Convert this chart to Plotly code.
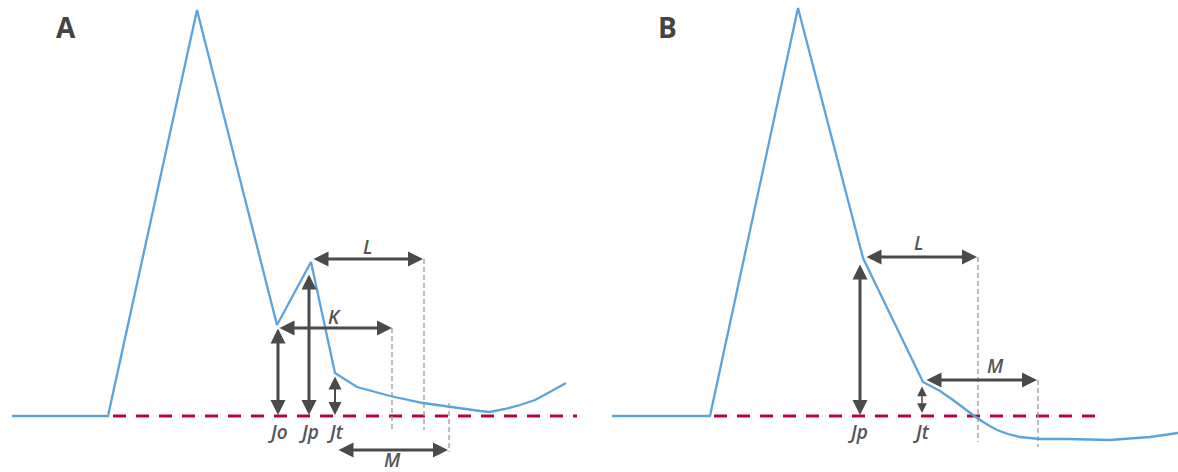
import plotly.graph_objects as go

# ECG traces (x in px-like units, y = amplitude above baseline)
a_x = [12, 108, 197, 277, 311, 335, 357, 390, 423, 450, 480, 490, 505, 520, 535, 548, 558, 566]
a_y = [0, 0, 406, 91, 154, 43, 29, 20, 13, 9, 5, 4, 7, 11, 16, 23, 29, 33]
b_x = [612, 710, 798, 863, 923, 940, 953, 966, 977, 988, 997, 1008, 1020, 1040, 1067, 1110, 1150, 1178]
b_y = [0, 0, 408, 158, 34, 25, 16, 6, -2, -9, -14, -18, -21, -23, -23, -24, -21, -17]

# baselines (isoelectric) per panel
base_a = [113, 577]
base_b = [714, 1104]

# double-headed arrows: (x0, y0, x1, y1, width)
arrows = [
    (278, 89, 278, 1, 3),      # Jo
    (309, 143, 309, 1, 3),     # Jp A
    (335, 41, 335, 1, 2),      # Jt A
    (278, 88, 392, 88, 3),     # K
    (312, 157, 423, 157, 3),   # L A
    (337, -34, 448, -34, 3),   # M A
    (860, 153, 860, 1, 3),     # Jp B
    (922, 31, 922, 3, 1.5),    # Jt B
    (865, 159, 977, 159, 3),   # L B
    (925, 36, 1037, 36, 3),    # M B
]
# dashed guide lines: (x, y_top, y_bottom)
guides = [(392, 88, -14), (424, 157, -14), (449, 13, -36),
          (978, 159, -26), (1038, 36, -31)]

labels = ["Jo", "Jp", "Jt", "K", "L", "M", "Jp", "Jt", "L", "M"]
label_x = [278, 309, 335, 334, 367, 392, 858, 921, 918, 995]
label_y = [-16, -16, -16, 99, 169, -44, -16, -16, 173, 50]

panels = ["A", "B"]
panel_x = [66, 667]
panel_y = [389, 389]

blue = "#5BA3DC"
grey = "#4a4a4a"
red = "#B3043F"

fig = go.Figure()
fig.add_trace(go.Scatter(x=a_x, y=a_y, mode="lines", line=dict(color=blue, width=2.3), hoverinfo="skip"))
fig.add_trace(go.Scatter(x=b_x, y=b_y, mode="lines", line=dict(color=blue, width=2.3), hoverinfo="skip"))

shapes = []
for xs in (base_a, base_b):
    shapes.append(dict(type="line", x0=xs[0], x1=xs[1], y0=0, y1=0, xref="x", yref="y",
                       line=dict(color=red, width=3.2, dash="13px,10px"), layer="below"))
for gx, gy0, gy1 in guides:
    shapes.append(dict(type="line", x0=gx, x1=gx, y0=gy0, y1=gy1, xref="x", yref="y",
                       line=dict(color="#9a9a9a", width=1.3, dash="5px,3px"), layer="below"))

annotations = []
for x0, y0, x1, y1, w in arrows:
    sz = 1.0 if w >= 3 else 1.3
    annotations.append(dict(x=x1, y=y1, ax=x0, ay=y0, xref="x", yref="y", axref="x", ayref="y",
                            text="", showarrow=True, arrowhead=2, startarrowhead=2,
                            arrowside="end+start", arrowsize=sz, startarrowsize=sz,
                            arrowwidth=w, arrowcolor=grey, standoff=0, startstandoff=0))
for t, x, y in zip(labels, label_x, label_y):
    annotations.append(dict(x=x, y=y, xref="x", yref="y", text=t, showarrow=False,
                            font=dict(family="Open Sans", size=19, color="#555555",
                                      style="italic", weight=600)))
for t, x, y in zip(panels, panel_x, panel_y):
    annotations.append(dict(x=x, y=y, xref="x", yref="y", text="<b>" + t + "</b>", showarrow=False,
                            font=dict(family="Open Sans", size=28, color="#444444")))

fig.update_layout(
    width=1178, height=472, margin=dict(l=0, r=0, t=0, b=0),
    paper_bgcolor="white", plot_bgcolor="white", showlegend=False,
    xaxis=dict(range=[0, 1178], visible=False, fixedrange=True),
    yaxis=dict(range=[-56, 416], visible=False, fixedrange=True),
    shapes=shapes, annotations=annotations,
)
fig.write_html("out.html", config={"displayModeBar": False},
               post_script="document.body.style.margin='0';document.body.style.overflow='hidden';")
